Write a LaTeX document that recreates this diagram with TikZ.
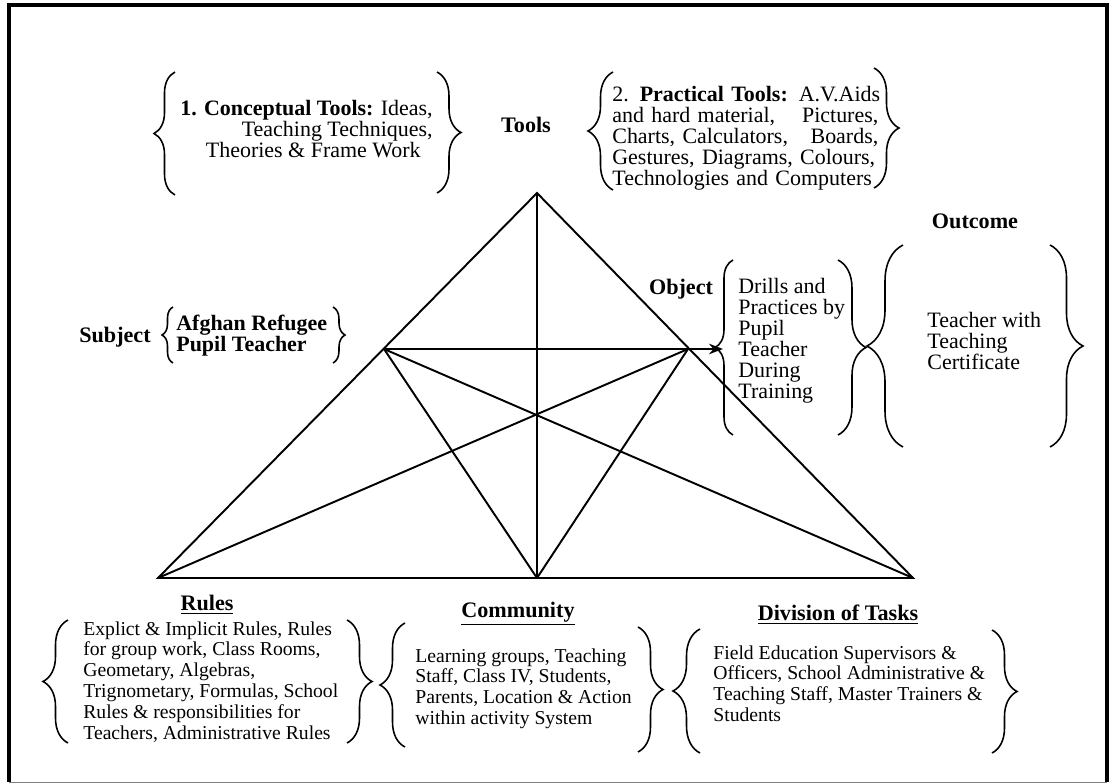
\documentclass[tikz,border=0pt]{standalone}
\usepackage{fontspec}
\setmainfont{Liberation Serif}
\usetikzlibrary{positioning, arrows.meta, decorations.pathreplacing}
\tikzset{>={Stealth[length=8pt,width=6pt]},
  edge/.style={line width=1.1pt},
  brc/.style={decorate, decoration={brace, amplitude=#1}, line width=0.9pt},
  head/.style={font=\fontsize{12.6}{12}\selectfont\bfseries, inner sep=0pt, text height=8.5pt, text depth=2.5pt},
  toptxt/.style={font=\fontsize{12.5}{11.9}\selectfont, align=left, inner sep=0pt, anchor=north west},
  lowtxt/.style={font=\fontsize{11.2}{11.9}\selectfont, align=left, inner sep=0pt, anchor=north west}}

\begin{document}
\begin{tikzpicture}[x=0.02cm, y=-0.02cm]
\useasboundingbox (0,0) rectangle (1110,784);
\draw[line width=1.8pt] (9,782) -- (9,5) -- (1107,5) -- (1107,782);
\draw[gray] (9,782) -- (1107,782);

% triangle
\coordinate (top) at (537,193);
\coordinate (bl) at (158,578);
\coordinate (br) at (913,578);
\coordinate (bm) at (537,578);
\coordinate (lm) at (384,349);
\coordinate (rm) at (688,349);
\coordinate (objin) at (723,349);
\draw[edge] (bl) -- (top) -- (br) -- cycle;
\draw[edge] (top) -- (bm);
\draw[edge] (lm) -- (bm);
\draw[edge] (lm) -- (br);
\draw[edge] (rm) -- (bl);
\draw[edge] (rm) -- (bm);
\draw[edge,->] (lm) -- (objin);

% tools
\node[head] (tools) at (526,127) {Tools};
\node[toptxt, anchor=north east, align=right] (concept) at (433,100) {\textbf{1. Conceptual Tools:} Ideas,\\ Teaching Techniques,\hspace*{0.24cm}\\ Theories \& Frame Work\hspace*{0.24cm}};
\draw[brc=0.42cm] (175,195) -- (175,72);
\draw[brc=0.48cm] (437,72) -- (437,193);
\node[toptxt, text width=5.32cm] (practical) at (612,86) {\mbox{2. \textbf{Practical Tools:} A.V.Aids}\\ and hard material,\hfill Pictures,\\ Charts, Calculators,\hfill Boards,\\ Gestures, Diagrams, Colours,\\ Technologies and Computers};
\draw[brc=0.5cm] (613,190) -- (613,72);
\draw[brc=0.5cm] (874,68) -- (874,188);

% subject
\node[head] (subject) at (115,337) {Subject};
\node[toptxt, font=\fontsize{12.5}{11.9}\selectfont\bfseries] (pupil) at (176,315) {Afghan Refugee\\ Pupil Teacher};
\draw[brc=0.22cm] (173,363) -- (173,307);
\draw[brc=0.24cm] (333,307) -- (333,363);

% object and outcome
\node[head] (object) at (681,289) {Object};
\node[toptxt] (drills) at (738,278) {Drills and\\ Practices by\\ Pupil\\ Teacher\\ During\\ Training};
\draw[brc=0.36cm] (733,435) -- (733,260);
\draw[brc=0.56cm] (838,260) -- (838,435);
\node[head] (outcome) at (975,223) {Outcome};
\node[toptxt] (cert) at (927,312) {Teacher with\\ Teaching\\ Certificate};
\draw[brc=0.72cm] (903,447) -- (903,245);
\draw[brc=0.66cm] (1050,245) -- (1050,447);

% rules, community, division
\node[head] (rules) at (207,605) {\underline{Rules}};
\node[lowtxt] (rulestxt) at (83,621) {Explict \& Implicit Rules, Rules\\ for group work, Class Rooms,\\ Geometary, Algebras,\\ Trignometary, Formulas, School\\ Rules \& responsibilities for\\ Teachers, Administrative Rules};
\draw[brc=0.5cm] (68,743) -- (68,620);
\draw[brc=0.5cm] (347,620) -- (347,743);
\node[head] (community) at (518,612) {\underline{Community}};
\node[lowtxt] (commtxt) at (415,648) {Learning groups, Teaching\\ Staff, Class IV, Students,\\ Parents, Location \& Action\\ within activity System};
\draw[brc=0.5cm] (405,747) -- (405,623);
\draw[brc=0.5cm] (638,627) -- (638,752);
\node[head] (division) at (838,615) {\underline{Division of Tasks}};
\node[lowtxt] (divtxt) at (713,645) {Field Education Supervisors \&\\ Officers, School Administrative \&\\ Teaching Staff, Master Trainers \&\\ Students};
\draw[brc=0.54cm] (700,753) -- (700,629);
\draw[brc=0.5cm] (992,630) -- (992,753);
\end{tikzpicture}
\end{document}
